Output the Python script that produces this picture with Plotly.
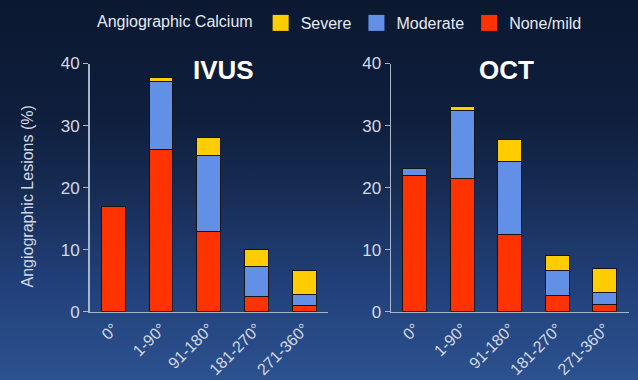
import base64
import plotly.graph_objects as go

categories = ["0°", "1-90°", "91-180°", "181-270°", "271-360°"]

ivus_none = [17.0, 26.1, 13.0, 2.4, 1.0]
ivus_moderate = [0.0, 11.0, 12.2, 4.9, 1.8]
ivus_severe = [0.0, 0.7, 2.8, 2.7, 3.9]

oct_none = [22.0, 21.4, 12.5, 2.6, 1.1]
oct_moderate = [1.0, 11.1, 11.7, 4.1, 2.0]
oct_severe = [0.0, 0.5, 3.5, 2.3, 3.9]

y_ticks = [0, 10, 20, 30, 40]

series_names = ["None/mild", "Moderate", "Severe"]
colors = {"None/mild": "#ff3300", "Moderate": "#6290e6", "Severe": "#ffcc00"}

W, H = 638, 380
FONT = "Liberation Sans, Arial, sans-serif"
TICK_COLOR = "#d4d9e3"
AXIS_COLOR = "#a8b6cc"

# background gradient (svg data uri)
svg = f'''<svg xmlns="http://www.w3.org/2000/svg" width="{W}" height="{H}" viewBox="0 0 {W} {H}" preserveAspectRatio="none">
<defs><linearGradient id="g" x1="0" y1="0" x2="0" y2="1">
<stop offset="0" stop-color="#0b1830"/>
<stop offset="0.3" stop-color="#0e1e3c"/>
<stop offset="0.5" stop-color="#172c54"/>
<stop offset="0.75" stop-color="#21407a"/>
<stop offset="1" stop-color="#2c528f"/>
</linearGradient></defs>
<rect x="0" y="0" width="{W}" height="{H}" fill="url(#g)"/></svg>'''
bg_uri = "data:image/svg+xml;base64," + base64.b64encode(svg.encode()).decode()

fig = go.Figure()

panels = [
    ("x", "y", [ivus_none, ivus_moderate, ivus_severe]),
    ("x2", "y2", [oct_none, oct_moderate, oct_severe]),
]
for xa, ya, data in panels:
    for name, vals in zip(series_names, data):
        fig.add_trace(go.Bar(
            x=categories, y=vals, name=name, xaxis=xa, yaxis=ya,
            marker=dict(color=colors[name], line=dict(color="#151515", width=1)),
            showlegend=False, hoverinfo="skip",
        ))

# legend entries (larger square icons)
for name in series_names:
    fig.add_trace(go.Scatter(
        x=[None], y=[None], mode="markers", name=name, xaxis="x", yaxis="y",
        marker=dict(symbol="square", size=16, color=colors[name], line=dict(width=0)),
        showlegend=True,
    ))

y_dom = [(H - 311.7) / H, (H - 63.5) / H]
xdom1 = [89.5 / W, 328.0 / W]
xdom2 = [391.0 / W, 628.5 / W]

common_x = dict(
    type="category", showline=True, linecolor=AXIS_COLOR, linewidth=1.5,
    ticks="", tickangle=-45, tickfont=dict(family=FONT, size=16, color=TICK_COLOR),
    showgrid=False, zeroline=False, fixedrange=True, automargin=False,
)
common_y = dict(
    range=[0, 40], tickvals=y_ticks, showline=True, linecolor=AXIS_COLOR, linewidth=1.5,
    ticks="outside", ticklen=5, tickwidth=1.5, tickcolor=AXIS_COLOR,
    tickfont=dict(family=FONT, size=17, color=TICK_COLOR),
    showgrid=False, zeroline=False, domain=y_dom, fixedrange=True, automargin=False,
)

fig.update_layout(
    width=W, height=H, autosize=False,
    margin=dict(l=0, r=0, t=0, b=0, pad=0, autoexpand=False),
    paper_bgcolor="#172c54",
    plot_bgcolor="rgba(0,0,0,0)",
    barmode="stack", bargap=0.5,
    xaxis=dict(domain=xdom1, anchor="y", **common_x),
    yaxis=dict(anchor="x", **common_y),
    xaxis2=dict(domain=xdom2, anchor="y2", **common_x),
    yaxis2=dict(anchor="x2", **common_y),
    images=[dict(source=bg_uri, xref="paper", yref="paper", x=0, y=1,
                 sizex=1, sizey=1, sizing="stretch", layer="below",
                 xanchor="left", yanchor="top")],
    legend=dict(
        orientation="h", xref="container", yref="container",
        x=95 / W, xanchor="left", y=1 - 6 / H, yanchor="top",
        traceorder="reversed",
        title=dict(text="Angiographic Calcium", font=dict(family=FONT, size=16, color="#e6eaf2")),
        font=dict(family=FONT, size=16, color="#e6eaf2"),
        bgcolor="rgba(0,0,0,0)", itemclick=False, itemdoubleclick=False,
    ),
    annotations=[
        dict(text="<b>IVUS</b>", x=223 / W, y=(H - 70.5) / H, xref="paper", yref="paper",
             showarrow=False, xanchor="center", yanchor="middle",
             font=dict(family=FONT, size=26, color="#ffffff")),
        dict(text="<b>OCT</b>", x=506 / W, y=(H - 70.5) / H, xref="paper", yref="paper",
             showarrow=False, xanchor="center", yanchor="middle",
             font=dict(family=FONT, size=26, color="#ffffff")),
        dict(text="Angiographic Lesions (%)", x=27.5 / W, y=(H - 197) / H, xref="paper", yref="paper",
             showarrow=False, xanchor="center", yanchor="middle", textangle=-90,
             font=dict(family=FONT, size=16, color=TICK_COLOR)),
    ],
)

fig.write_html(
    "out.html",
    config={"displayModeBar": False, "responsive": False, "staticPlot": True},
    post_script="document.documentElement.style.margin='0';document.body.style.margin='0';document.body.style.padding='0';document.body.style.overflow='hidden';",
)
